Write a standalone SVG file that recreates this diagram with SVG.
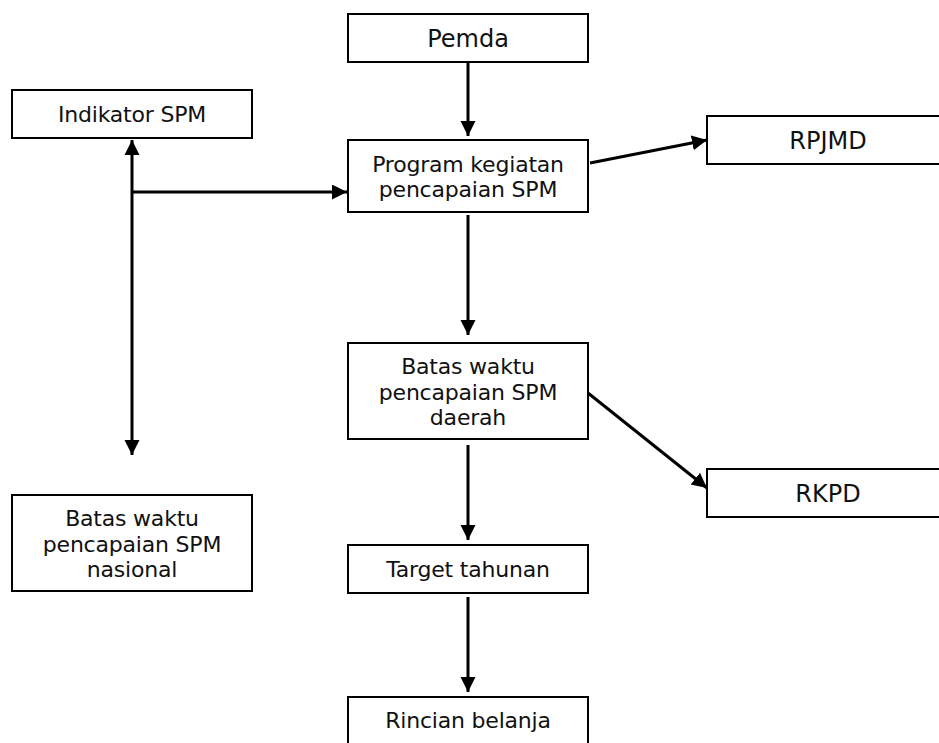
<svg xmlns="http://www.w3.org/2000/svg" width="939" height="743" viewBox="0 0 939 743">
<style>
.box{fill:#fff;stroke:#000;stroke-width:2}
.lbl{font-family:"DejaVu Sans",Verdana,sans-serif;font-size:22px;letter-spacing:-0.2px;fill:#111;text-anchor:middle}
.big{font-size:24px;letter-spacing:0}
.con{stroke:#000;stroke-width:3;fill:none;marker-end:url(#ah)}
</style>
<defs>
<marker id="ah" markerUnits="userSpaceOnUse" markerWidth="16" markerHeight="16" refX="15" refY="7.5" orient="auto">
<path d="M0,0 L15,7.5 L0,15 z" fill="#000"/>
</marker>
<marker id="ahs" markerUnits="userSpaceOnUse" markerWidth="16" markerHeight="16" refX="0" refY="7.5" orient="auto">
<path d="M15,0 L0,7.5 L15,15 z" fill="#000"/>
</marker>
</defs>
<rect width="939" height="743" fill="#fff"/>
<g id="connectors">
<line class="con" x1="468" y1="62" x2="468" y2="136"/>
<line class="con" x1="132" y1="140" x2="132" y2="455" style="marker-start:url(#ahs)"/>
<line class="con" x1="132" y1="192" x2="347" y2="192"/>
<line class="con" x1="468" y1="215" x2="468" y2="335"/>
<line class="con" x1="468" y1="445" x2="468" y2="540"/>
<line class="con" x1="468" y1="597" x2="468" y2="692"/>
<line class="con" x1="590" y1="163" x2="707" y2="140"/>
<line class="con" x1="588" y1="393" x2="707" y2="488"/>
</g>
<g id="pemda">
<rect class="box" x="348" y="14" width="240" height="48"/>
<text class="lbl big" x="468" y="47">Pemda</text>
</g>
<g id="indikator">
<rect class="box" x="12" y="90" width="240" height="48"/>
<text class="lbl" x="132" y="122">Indikator SPM</text>
</g>
<g id="program">
<rect class="box" x="348" y="140" width="240" height="72"/>
<text class="lbl" x="468" y="172">Program kegiatan</text>
<text class="lbl" x="468" y="197">pencapaian SPM</text>
</g>
<g id="rpjmd">
<rect class="box" x="707" y="116" width="260" height="48"/>
<text class="lbl big" x="828" y="148.5">RPJMD</text>
</g>
<g id="batas-daerah">
<rect class="box" x="348" y="343" width="240" height="96"/>
<text class="lbl" x="468" y="374">Batas waktu</text>
<text class="lbl" x="468" y="399.5">pencapaian SPM</text>
<text class="lbl" x="468" y="425">daerah</text>
</g>
<g id="rkpd">
<rect class="box" x="707" y="469" width="260" height="48"/>
<text class="lbl big" x="828" y="501.5">RKPD</text>
</g>
<g id="batas-nasional">
<rect class="box" x="12" y="495" width="240" height="96"/>
<text class="lbl" x="132" y="526">Batas waktu</text>
<text class="lbl" x="132" y="551.5">pencapaian SPM</text>
<text class="lbl" x="132" y="577">nasional</text>
</g>
<g id="target">
<rect class="box" x="348" y="545" width="240" height="48"/>
<text class="lbl" x="468" y="577">Target tahunan</text>
</g>
<g id="rincian">
<rect class="box" x="348" y="697" width="240" height="48"/>
<text class="lbl" x="468" y="728">Rincian belanja</text>
</g>
</svg>
